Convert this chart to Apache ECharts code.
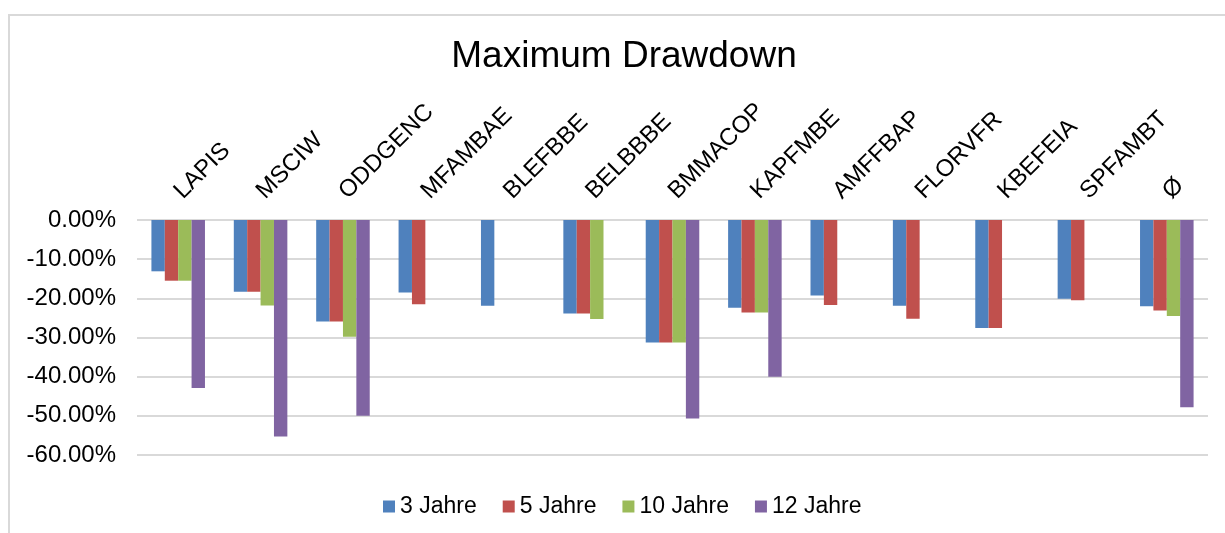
<!DOCTYPE html>
<html>
<head>
<meta charset="utf-8">
<title>Maximum Drawdown</title>
<script src="https://cdn.jsdelivr.net/npm/echarts@6/dist/echarts.min.js"></script>
<style>
  html, body { margin: 0; padding: 0; background: #fff; }
  #chart { width: 1225px; height: 533px; }
</style>
</head>
<body>
<div id="chart"></div>
<script>
// Kategorien und Werte (in Prozent)
var categories = ['LAPIS', 'MSCIW', 'ODDGENC', 'MFAMBAE', 'BLEFBBE', 'BELBBBE', 'BMMACOP',
                  'KAPFMBE', 'AMFFBAP', 'FLORVFR', 'KBEFEIA', 'SPFAMBT', '\u00D8'];
var seriesNames = ['3 Jahre', '5 Jahre', '10 Jahre', '12 Jahre'];
var jahre3  = [-13.1, -18.3, -25.9, -18.5, -21.9, -23.9, -31.3, -22.4, -19.3, -21.9, -27.6, -20.1, -22.0];
var jahre5  = [-15.5, -18.3, -25.9, -21.5, null,  -23.9, -31.3, -23.6, -21.7, -25.2, -27.6, -20.5, -23.1];
var jahre10 = [-15.5, -21.8, -29.8, null,  null,  -25.3, -31.3, -23.6, null,  null,  null,  null,  -24.5];
var jahre12 = [-42.9, -55.3, -50.0, null,  null,  null,  -50.7, -40.0, null,  null,  null,  null,  -47.8];
var yTicks = { min: -60, max: 0, interval: 10 };

var colors = ['#4F81BD', '#C0504D', '#9BBB59', '#8064A2'];
var font = 'Liberation Sans, Arial, sans-serif';

var chart = echarts.init(document.getElementById('chart'));

function barSeries(name, data) {
    return {
        name: name,
        type: 'bar',
        data: data,
        barGap: '0%',
        barCategoryGap: '35%'
    };
}

var option = {
    animation: false,
    color: colors,
    textStyle: { fontFamily: font },
    graphic: [{
        type: 'rect',
        shape: { x: 9, y: 15, width: 1400, height: 700 },
        style: { fill: 'none', stroke: '#d9d9d9', lineWidth: 2 },
        silent: true
    }],
    title: {
        text: 'Maximum Drawdown',
        left: 619,
        textAlign: 'center',
        top: 33,
        textStyle: { fontFamily: font, fontSize: 37, fontWeight: 'normal', color: '#000' }
    },
    legend: {
        data: seriesNames,
        left: 378,
        top: 490,
        itemWidth: 12,
        itemHeight: 12,
        itemGap: 26,
        icon: 'rect',
        textStyle: { fontFamily: font, fontSize: 23, color: '#000' }
    },
    grid: { left: 137, right: 17, top: 220, bottom: 78 },
    xAxis: {
        type: 'category',
        position: 'top',
        data: categories,
        axisLine: { show: false },
        axisTick: { show: false },
        axisLabel: {
            rotate: 45,
            interval: 0,
            margin: 25,
            fontFamily: font,
            fontSize: 24,
            color: '#000'
        }
    },
    yAxis: {
        type: 'value',
        min: yTicks.min,
        max: yTicks.max,
        interval: yTicks.interval,
        axisLine: { show: false },
        axisTick: { show: false },
        axisLabel: {
            margin: 21,
            fontFamily: font,
            fontSize: 24,
            color: '#000',
            formatter: function (v) { return v.toFixed(2) + '%'; }
        },
        splitLine: { lineStyle: { color: '#d9d9d9', width: 2 } }
    },
    series: [
        barSeries(seriesNames[0], jahre3),
        barSeries(seriesNames[1], jahre5),
        barSeries(seriesNames[2], jahre10),
        barSeries(seriesNames[3], jahre12)
    ]
};
chart.setOption(option);
</script>
</body>
</html>
